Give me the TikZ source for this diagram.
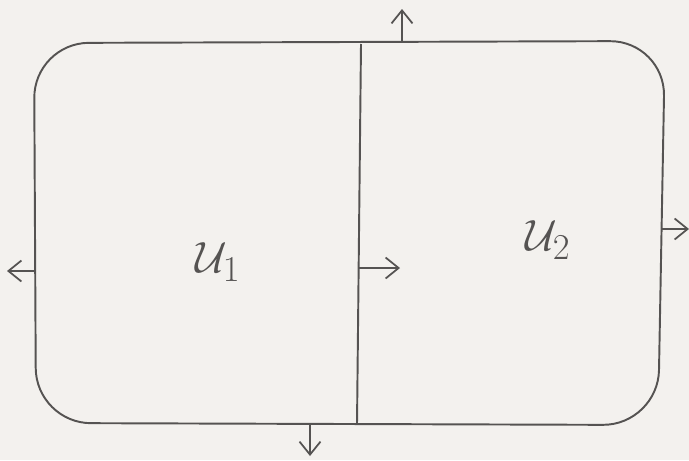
\documentclass[tikz,border=0pt]{standalone}
\usepackage{amsmath,amssymb}
\usepackage{tikz}
\usetikzlibrary{arrows.meta}
\definecolor{paper}{HTML}{F3F1EE}
\definecolor{pencil}{HTML}{555352}

\begin{document}
\begin{tikzpicture}[x=0.02cm,y=-0.02cm]
		\tikzset{bound/.style={draw=pencil,line width=1.1pt,line join=round},
			normal/.style={draw=pencil,line width=1pt,-{Straight Barb[length=2.6mm,width=4.2mm]}},
			region/.style={text=pencil,font=\fontsize{30}{36}\selectfont}}
		\fill[paper] (0,0) rectangle (689,460);
		\useasboundingbox (0,0) rectangle (689,460);
		\coordinate (tl) at (34,43);
		\coordinate (tr) at (665,41);
		\coordinate (br) at (658,425);
		\coordinate (bl) at (36,423);
		\draw[bound,rounded corners=1.1cm] (tl) -- (tr) -- (br) -- (bl) -- cycle;
		\coordinate (d1) at (361,44);
		\coordinate (d2) at (357,424);
		\draw[bound] (d1) -- (d2);
		\node (u1) at (218,262) [region] {$\mathcal{U}_1$};
		\node (u2) at (548,240) [region] {$\mathcal{U}_2$};
		
		\coordinate (t0) at (402,42);  \coordinate (t1) at (402,9);
		\coordinate (l0) at (35,271);  \coordinate (l1) at (7,271);
		\coordinate (r0) at (662,229); \coordinate (r1) at (689,229);
		\coordinate (b0) at (310,424); \coordinate (b1) at (310,456);
		\coordinate (m0) at (358,268); \coordinate (m1) at (400,268);
		\path
		(t0) edge [normal] (t1)
		(l0) edge [normal] (l1)
		(r0) edge [normal] (r1)
		(b0) edge [normal] (b1)
		(m0) edge [normal] (m1);
	\end{tikzpicture}
\end{document}
